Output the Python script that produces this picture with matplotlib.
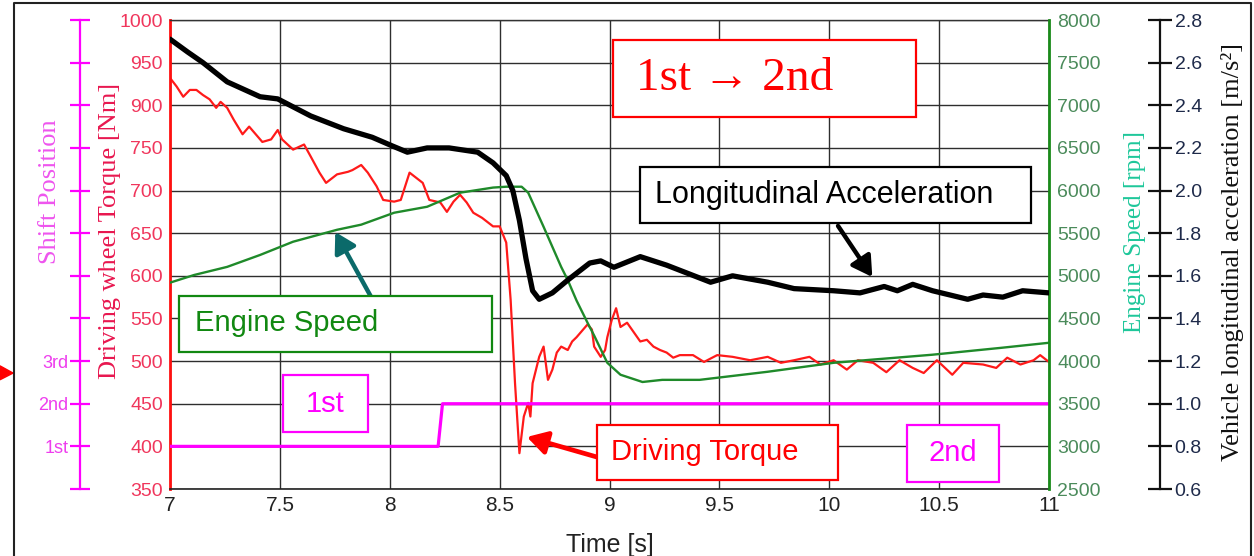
import matplotlib.pyplot as plt
from matplotlib.patches import Rectangle, Polygon
from matplotlib.lines import Line2D

# driving wheel torque (values in axis units 350..900, labels are relabelled below)
time_torque = [7.00, 7.03, 7.06, 7.09, 7.12, 7.15, 7.18, 7.21, 7.23, 7.26, 7.29, 7.33, 7.36, 7.39,
               7.42, 7.46, 7.49, 7.51, 7.56, 7.61, 7.64, 7.68, 7.71, 7.76, 7.81, 7.83, 7.87, 7.90,
               7.94, 7.97, 8.02, 8.05, 8.09, 8.12, 8.15, 8.18, 8.23, 8.26, 8.29, 8.32, 8.35, 8.38,
               8.42, 8.47, 8.50, 8.53, 8.55, 8.57, 8.59, 8.61, 8.63, 8.64, 8.65, 8.68, 8.70, 8.72,
               8.74, 8.76, 8.78, 8.81, 8.83, 8.85, 8.88, 8.90, 8.92, 8.93, 8.96, 8.98, 8.99, 9.01,
               9.03, 9.05, 9.08, 9.11, 9.14, 9.17, 9.20, 9.23, 9.26, 9.29, 9.32, 9.38, 9.43, 9.49,
               9.56, 9.64, 9.72, 9.78, 9.84, 9.91, 9.96, 10.02, 10.08, 10.13, 10.20, 10.26, 10.32,
               10.38, 10.43, 10.49, 10.56, 10.61, 10.70, 10.76, 10.81, 10.87, 10.93, 10.96, 11.00]
torque = [832, 822, 810, 818, 818, 812, 807, 797, 804, 797, 783, 766, 775, 766,
          757, 760, 771, 760, 748, 754, 740, 721, 709, 719, 722, 724, 730, 721,
          705, 689, 687, 689, 721, 715, 709, 689, 686, 675, 687, 695, 686, 674,
          668, 658, 658, 639, 572, 474, 392, 435, 451, 435, 474, 505, 517, 478,
          490, 510, 517, 513, 523, 528, 537, 543, 537, 517, 505, 513, 528, 548,
          562, 540, 545, 534, 523, 525, 517, 513, 510, 504, 507, 507, 499, 507,
          505, 501, 505, 498, 501, 505, 496, 501, 490, 501, 498, 487, 501,
          492, 486, 501, 484, 498, 496, 492, 504, 496, 501, 507, 499]

# engine speed [rpm]
time_rpm = [7.00, 7.11, 7.26, 7.41, 7.56, 7.76, 7.87, 8.02, 8.17, 8.32, 8.47, 8.53, 8.60, 8.63,
            8.70, 8.78, 8.81, 8.85, 8.90, 8.93, 8.99, 9.05, 9.15, 9.24, 9.41, 9.72, 10.02,
            10.47, 10.78, 11.00]
rpm = [4920, 5010, 5105, 5245, 5400, 5540, 5600, 5740, 5810, 5975, 6035, 6045, 6045, 5975,
       5575, 5105, 4950, 4710, 4450, 4300, 3980, 3840, 3755, 3780, 3780, 3875, 3980,
       4075, 4155, 4215]

# vehicle longitudinal acceleration [m/s2]
time_acc = [7.00, 7.08, 7.15, 7.26, 7.41, 7.49, 7.64, 7.79, 7.92, 8.01, 8.08, 8.17, 8.27, 8.40,
            8.47, 8.53, 8.56, 8.59, 8.62, 8.65, 8.68, 8.74, 8.81, 8.91, 8.96, 9.02, 9.14, 9.26,
            9.46, 9.56, 9.72, 9.84, 10.02, 10.14, 10.25, 10.31, 10.38, 10.47, 10.63, 10.70,
            10.79, 10.88, 11.00]
acc = [2.71, 2.65, 2.60, 2.51, 2.44, 2.43, 2.35, 2.29, 2.25, 2.21, 2.18, 2.20, 2.20, 2.18,
       2.13, 2.07, 2.00, 1.86, 1.68, 1.53, 1.49, 1.52, 1.58, 1.66, 1.67, 1.64, 1.69, 1.65,
       1.57, 1.60, 1.57, 1.54, 1.53, 1.52, 1.55, 1.53, 1.56, 1.53, 1.49, 1.51,
       1.50, 1.53, 1.52]

# shift position (1 = 1st, 2 = 2nd)
time_shift = [7.0, 8.22, 8.24, 11.0]
shift_gear = [1, 1, 2, 2]

time_ticks = [7, 7.5, 8, 8.5, 9, 9.5, 10, 10.5, 11]
time_labels = ['7', '7.5', '8', '8.5', '9', '9.5', '10', '10.5', '11']
torque_ticks = list(range(350, 901, 50))
torque_labels = ['350', '400', '450', '500', '550', '600', '650', '700', '750', '900', '950', '1000']
rpm_ticks = list(range(2500, 8001, 500))
acc_ticks = [0.6, 0.8, 1.0, 1.2, 1.4, 1.6, 1.8, 2.0, 2.2, 2.4, 2.6, 2.8]
shift_ticks = list(range(0, 12))
shift_labels = ['', '1st', '2nd', '3rd', '', '', '', '', '', '', '', '']

SANS = ['Liberation Sans', 'DejaVu Sans']
SERIF = ['Liberation Serif', 'DejaVu Serif']

fig = plt.figure(figsize=(12.54, 5.56), dpi=100)
ax = fig.add_axes([0.1356, 0.1205, 0.7009, 0.8435])
ax_shift = ax.twinx()
ax_rpm = ax.twinx()
ax_acc = ax.twinx()
for i, a in enumerate([ax, ax_shift, ax_rpm, ax_acc]):
    a.set_zorder(i + 1)
    a.patch.set_visible(False)
for a in [ax_shift, ax_rpm, ax_acc]:
    for s in a.spines.values():
        s.set_visible(False)

# spine positions first: moving a spine resets its ticks
ax_shift.spines['left'].set_position(('axes', -0.1024))
ax_acc.spines['right'].set_position(('axes', 1.1263))

# torque / base axis
ax.set_xlim(7, 11)
ax.set_ylim(350, 900)
ax.set_xticks(time_ticks)
ax.set_xticklabels(time_labels, family=SANS)
ax.set_yticks(torque_ticks)
ax.set_yticklabels(torque_labels, family=SANS)
ax.tick_params(axis='both', length=0)
ax.tick_params(axis='x', pad=5, labelsize=15, labelcolor='#222222')
ax.tick_params(axis='y', pad=5, labelsize=14, labelcolor='#f0365c')
ax.grid(True, color='#2e2e2e', lw=1.0)
ax.spines['left'].set_color('#ff1010')
ax.spines['left'].set_linewidth(2)
ax.spines['right'].set_visible(False)
ax.spines['top'].set_color('#333333')
ax.spines['top'].set_linewidth(1.0)
ax.spines['bottom'].set_color('#222222')
ax.spines['bottom'].set_linewidth(1.2)
ax.plot(time_torque, torque, color='#ff1a1a', lw=1.6)
ax.set_ylabel('Driving wheel Torque [Nm]', family=SERIF, fontsize=19, color='#e8174f', va='center')
ax.yaxis.set_label_coords(-0.068, 0.55)
ax.set_xlabel('Time [s]', family=SANS, fontsize=18, color='#222222', va='center')
ax.xaxis.set_label_coords(0.5, -0.119)

# shift position axis
ax_shift.set_ylim(0, 11)
ax_shift.yaxis.set_ticks_position('left')
ax_shift.yaxis.set_label_position('left')
ax_shift.spines['left'].set_visible(True)
ax_shift.spines['left'].set_color('#ff00ff')
ax_shift.spines['left'].set_linewidth(1.6)
ax_shift.set_yticks(shift_ticks)
ax_shift.set_yticklabels(shift_labels, family=SANS)
ax_shift.tick_params(axis='y', direction='inout', length=15, width=1.6, color='#ff00ff', pad=1,
                     labelsize=13, labelcolor='#ee3dee')
ax_shift.plot(time_shift, shift_gear, color='#ff00ff', lw=2.3)
ax_shift.set_ylabel('Shift Position', family=SERIF, fontsize=19, color='#ee55ee', va='center')
ax_shift.yaxis.set_label_coords(-0.1365, 0.635)

# engine speed axis
ax_rpm.set_ylim(2500, 8000)
ax_rpm.set_yticks(rpm_ticks)
ax_rpm.set_yticklabels([str(v) for v in rpm_ticks], family=SANS)
ax_rpm.tick_params(axis='y', length=0, pad=6, labelsize=14, labelcolor='#4b8b5b')
ax_rpm.spines['right'].set_visible(True)
ax_rpm.spines['right'].set_color('#1a8a1a')
ax_rpm.spines['right'].set_linewidth(2)
ax_rpm.plot(time_rpm, rpm, color='#1f8a2a', lw=1.7)
ax_rpm.set_ylabel('Engine Speed [rpm]', family=SERIF, fontsize=18, color='#1ec79a', va='center')
ax_rpm.yaxis.set_label_coords(1.0978, 0.548)

# acceleration axis
ax_acc.set_ylim(0.6, 2.8)
ax_acc.set_yticks(acc_ticks)
ax_acc.set_yticklabels(['%.1f' % v for v in acc_ticks], family=SANS)
ax_acc.spines['right'].set_visible(True)
ax_acc.spines['right'].set_color('#111111')
ax_acc.spines['right'].set_linewidth(1.6)
ax_acc.tick_params(axis='y', direction='inout', length=17, width=1.6, color='#111111', pad=2,
                   labelsize=14, labelcolor='#1e2a4a')
ax_acc.plot(time_acc, acc, color='black', lw=3.8, solid_capstyle='round')
ax_acc.set_ylabel('Vehicle longitudinal acceleration [m/s²]', family=SERIF, fontsize=19,
                  color='#111111', va='center')
ax_acc.yaxis.set_label_coords(1.2093, 0.505)


def label_box(x0, y0, x1, y1, text, tx, ty, color, font, size, ha='left'):
    ax_acc.add_patch(Rectangle((x0, y0), x1 - x0, y1 - y0, transform=ax_acc.transAxes,
                               facecolor='white', edgecolor=color, lw=1.6, zorder=5, clip_on=False))
    ax_acc.text(tx, ty, text, transform=ax_acc.transAxes, color=color, family=font,
                fontsize=size, ha=ha, va='center', zorder=6)


def arrow(tail, tip, color, lw):
    ax_acc.annotate('', xy=tip, xytext=tail, xycoords='axes fraction', textcoords='axes fraction',
                    arrowprops=dict(arrowstyle='-|>,head_length=0.6,head_width=0.35', lw=lw,
                                    color=color, shrinkA=0, shrinkB=0, mutation_scale=20),
                    zorder=4)


label_box(0.504, 0.793, 0.849, 0.957, '1st → 2nd', 0.530, 0.874, '#ff0000', SERIF, 34)
label_box(0.535, 0.567, 0.980, 0.687, 'Longitudinal Acceleration', 0.552, 0.627, '#000000', SANS, 22)
label_box(0.010, 0.292, 0.366, 0.412, 'Engine Speed', 0.028, 0.354, '#118811', SANS, 21)
label_box(0.129, 0.122, 0.225, 0.243, '1st', 0.177, 0.182, '#ff00ff', SANS, 21, ha='center')
label_box(0.486, 0.019, 0.760, 0.136, 'Driving Torque', 0.502, 0.079, '#ff0000', SANS, 21)
label_box(0.838, 0.015, 0.943, 0.136, '2nd', 0.8905, 0.077, '#ff00ff', SANS, 21, ha='center')

arrow((0.760, 0.561), (0.799, 0.452), '#000000', 3.2)
arrow((0.228, 0.412), (0.188, 0.548), '#0b6a6a', 3.2)
arrow((0.486, 0.068), (0.406, 0.111), '#ff0000', 3.4)

# outer frame and cut-off marker at the left edge
fig.add_artist(Line2D([14 / 1254, 14 / 1254, 1251 / 1254, 1251 / 1254], [0, 0.9946, 0.9946, 0],
                      transform=fig.transFigure, color='#222222', lw=1.5))
fig.add_artist(Polygon([[0, 0.342], [0.0104, 0.329], [0, 0.317]], closed=True,
                       transform=fig.transFigure, color='#ff0000'))

fig.savefig('out.png', dpi=100)
